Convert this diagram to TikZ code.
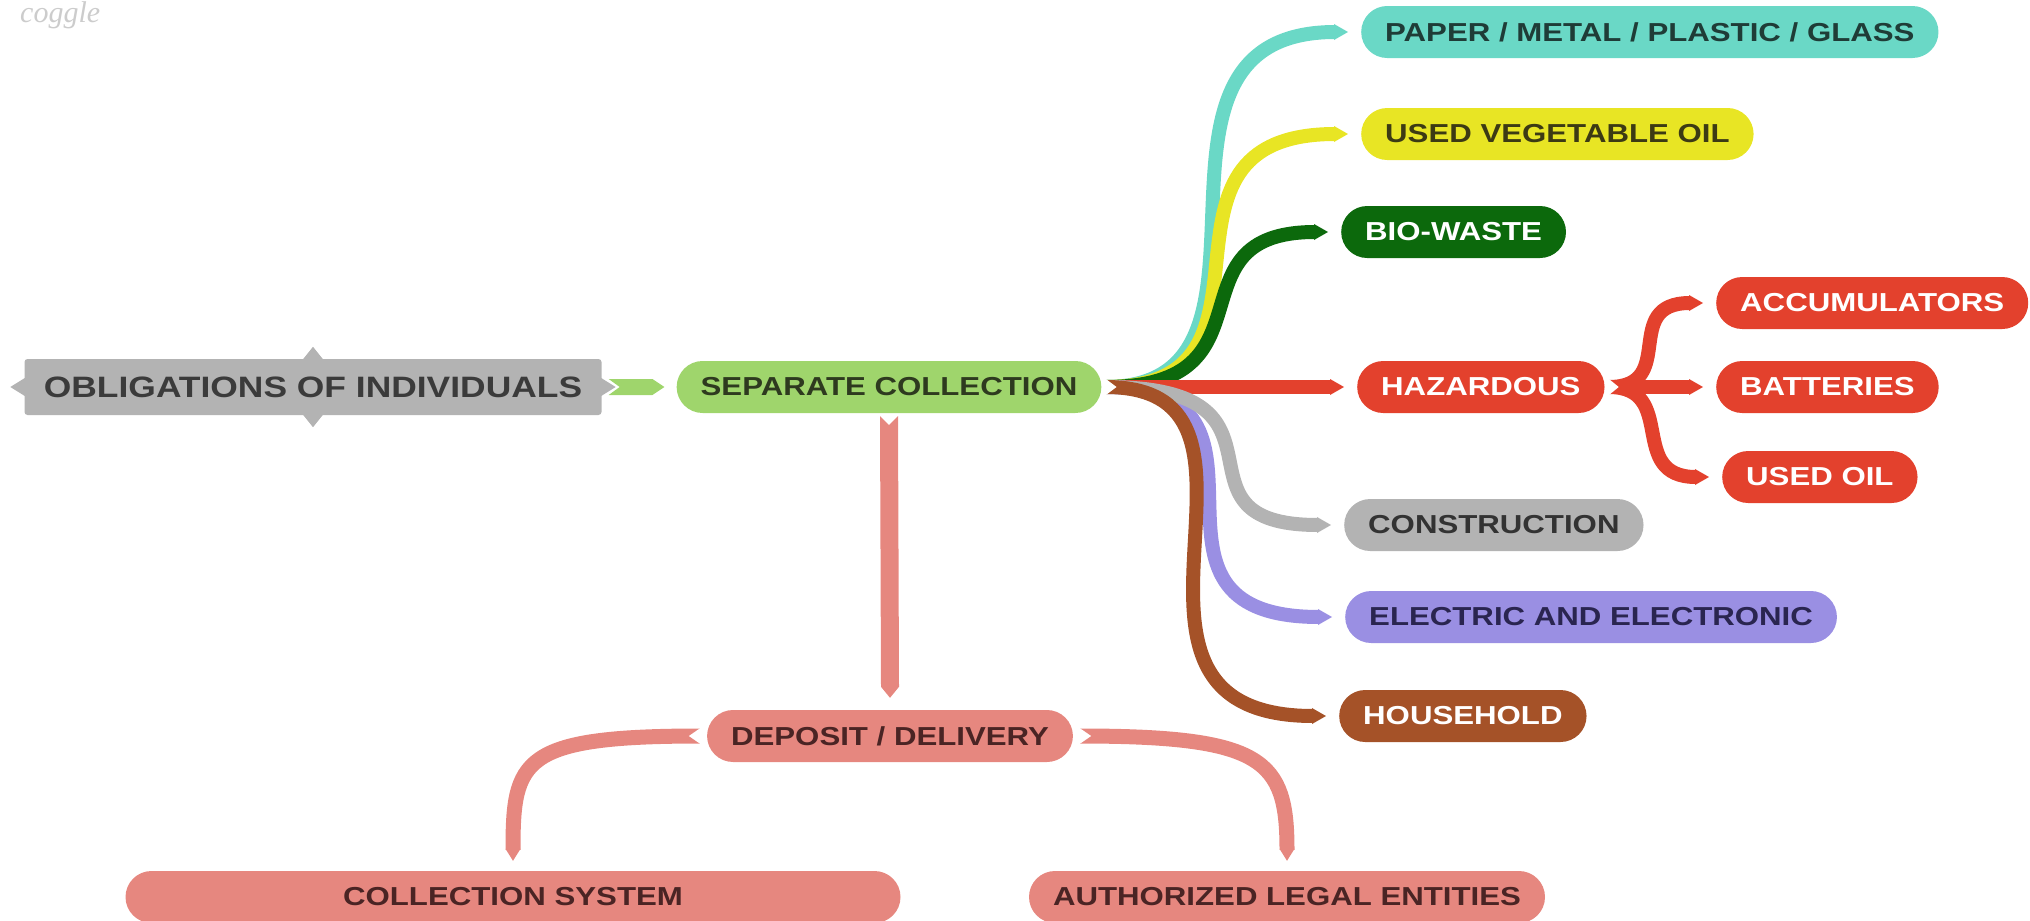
\documentclass[tikz,border=0pt]{standalone}
\usepackage{fontspec}
\newfontfamily\lab{Liberation Sans}[FakeStretch=1.2]
\newfontfamily\wmfont{Liberation Serif}
\usetikzlibrary{calc}
\pgfdeclarelayer{bg}
\pgfsetlayers{bg,main}
\definecolor{cgray}{HTML}{B3B3B3}
\definecolor{tgray}{HTML}{333333}
\definecolor{tobl}{HTML}{3B3B3B}
\definecolor{clgreen}{HTML}{9FD56C}
\definecolor{tlgreen}{HTML}{2E3A1F}
\definecolor{cteal}{HTML}{6AD8C6}
\definecolor{tteal}{HTML}{1F3C37}
\definecolor{cyellow}{HTML}{E8E524}
\definecolor{tyellow}{HTML}{3C3A14}
\definecolor{cdgreen}{HTML}{0C690C}
\definecolor{cred}{HTML}{E3412D}
\definecolor{clav}{HTML}{9A8FE3}
\definecolor{tlav}{HTML}{2A2550}
\definecolor{cbrown}{HTML}{A55228}
\definecolor{csalmon}{HTML}{E6877F}
\definecolor{tsalmon}{HTML}{4A2424}
% horizontal branch: colour, start, target node, a, b
\newcommand\hbranch[5]{%
  \draw[#1, line width=14pt] (#2) .. controls ($(#2)+(#4,0)$) and ($(#3.west)+(-26-#5,0)$) .. ($(#3.west)+(-26,0)$);
  \fill[#1] ($(#3.west)+(-27,-8)$) -- ($(#3.west)+(-13,0)$) -- ($(#3.west)+(-27,8)$) -- cycle;
}
% branch ending downwards: colour, start, target node, a, b
\newcommand\dbranch[5]{%
  \draw[#1, line width=15pt] (#2) .. controls ($(#2)+(#4,0)$) and ($(#3.north)+(0,-21-#5)$) .. ($(#3.north)+(0,-21)$);
  \fill[#1] ($(#3.north)+(-7.5,-22)$) -- ($(#3.north)+(0,-10)$) -- ($(#3.north)+(7.5,-22)$) -- cycle;
}
\tikzset{
  pill/.style={rounded corners=26pt, minimum height=52pt, inner xsep=24pt, inner ysep=0pt,
    font=\lab\bfseries\fontsize{26}{26}\selectfont, anchor=west},
  notch/.style={fill=white},
}
\begin{document}
\begin{tikzpicture}[x=1pt,y=-1pt]
\useasboundingbox (0,0) rectangle (2030,921);

% watermark
\node[anchor=base west, inner sep=0pt, text=black!20, font=\wmfont\itshape\fontsize{30}{30}\selectfont] (wm) at (20,22) {coggle};

% nodes
\node[rounded corners=3pt, fill=cgray, text=tobl, minimum height=56pt, minimum width=577pt, inner xsep=18pt, inner ysep=0pt,
      font=\lab\bfseries\fontsize{29.5}{29.5}\selectfont] (obl) at (313,387) {OBLIGATIONS OF INDIVIDUALS};
\node[pill, anchor=center, fill=clgreen, text=tlgreen] (sep) at (889,387) {SEPARATE COLLECTION};
\node[pill, fill=cteal, text=tteal] (paper) at (1361,32) {PAPER / METAL / PLASTIC / GLASS};
\node[pill, fill=cyellow, text=tyellow] (veg) at (1361,134) {USED VEGETABLE OIL};
\node[pill, fill=cdgreen, text=white] (bio) at (1341,232) {BIO-WASTE};
\node[pill, fill=cred, text=white] (haz) at (1357,387) {HAZARDOUS};
\node[pill, fill=cred, text=white] (acc) at (1716,303) {ACCUMULATORS};
\node[pill, fill=cred, text=white] (bat) at (1716,387) {BATTERIES};
\node[pill, fill=cred, text=white] (uoil) at (1722,477) {USED OIL};
\node[pill, fill=cgray, text=tgray] (cons) at (1344,525) {CONSTRUCTION};
\node[pill, fill=clav, text=tlav] (elec) at (1345,617) {ELECTRIC AND ELECTRONIC};
\node[pill, fill=cbrown, text=white] (house) at (1339,716) {HOUSEHOLD};
\node[pill, anchor=center, fill=csalmon, text=tsalmon] (dep) at (890,736) {DEPOSIT / DELIVERY};
\node[pill, anchor=center, fill=csalmon, text=tsalmon, minimum width=775pt] (col) at (513,897) {COLLECTION SYSTEM};
\node[pill, anchor=center, fill=csalmon, text=tsalmon] (auth) at (1287,897) {AUTHORIZED LEGAL ENTITIES};

% spikes of the central topic
\fill[cgray] ($(obl.north)+(-10,0.5)$) -- ($(obl.north)+(0,-12)$) -- ($(obl.north)+(10,0.5)$) -- cycle;
\fill[cgray] ($(obl.south)+(-10,-0.5)$) -- ($(obl.south)+(0,12)$) -- ($(obl.south)+(10,-0.5)$) -- cycle;
\fill[cgray] ($(obl.west)+(0.5,-9)$) -- ($(obl.west)+(-14,0)$) -- ($(obl.west)+(0.5,9)$) -- cycle;
\fill[cgray] ($(obl.east)+(-0.5,-9)$) -- ($(obl.east)+(14,0)$) -- ($(obl.east)+(-0.5,9)$) -- cycle;

\begin{pgfonlayer}{bg}
% obligations -> separate collection
\fill[clgreen] ($(obl.east)+(7,-8)$) -- ($(sep.west)+(-24,-8)$) -- ($(sep.west)+(-12,0)$)
   -- ($(sep.west)+(-24,8)$) -- ($(obl.east)+(7,8)$) -- ($(obl.east)+(18,0)$) -- cycle;

% branches of separate collection
\coordinate (s) at ($(sep.east)+(4,0)$);
\hbranch{cteal}{s}{paper}{205}{226}
\hbranch{cyellow}{s}{veg}{198}{208}
\hbranch{cdgreen}{s}{bio}{175}{150}
\hbranch{cred}{s}{haz}{0}{0}
\hbranch{clav}{s}{elec}{204}{212}
\hbranch{cgray}{s}{cons}{206}{161}
\hbranch{cbrown}{s}{house}{205}{245}
\fill[notch] ($(s)+(-1,-9)$) -- ($(s)+(11,0)$) -- ($(s)+(-1,9)$) -- cycle;

% hazardous brace
\coordinate (h) at ($(haz.east)+(4,0)$);
\hbranch{cred}{h}{acc}{70}{70}
\hbranch{cred}{h}{bat}{0}{0}
\hbranch{cred}{h}{uoil}{70}{70}
\fill[notch] ($(h)+(-1,-9)$) -- ($(h)+(10,0)$) -- ($(h)+(-1,9)$) -- cycle;

% separate collection -> deposit / delivery
\fill[csalmon] ($(sep.south)+(-9,3)$) -- ($(sep.south)+(0,12)$) -- ($(sep.south)+(9,3)$)
   -- ($(dep.north)+(9,-23)$) -- ($(dep.north)+(0,-12)$) -- ($(dep.north)+(-9,-23)$) -- cycle;

% deposit / delivery branches
\coordinate (dl) at ($(dep.west)+(-6,0)$);
\coordinate (dr) at ($(dep.east)+(6,0)$);
\dbranch{csalmon}{dl}{col}{-180}{90}
\dbranch{csalmon}{dr}{auth}{185}{90}
\fill[notch] ($(dl)+(1,-9)$) -- ($(dl)+(-12,0)$) -- ($(dl)+(1,9)$) -- cycle;
\fill[notch] ($(dr)+(-1,-9)$) -- ($(dr)+(12,0)$) -- ($(dr)+(-1,9)$) -- cycle;
\end{pgfonlayer}
\end{tikzpicture}
\end{document}
